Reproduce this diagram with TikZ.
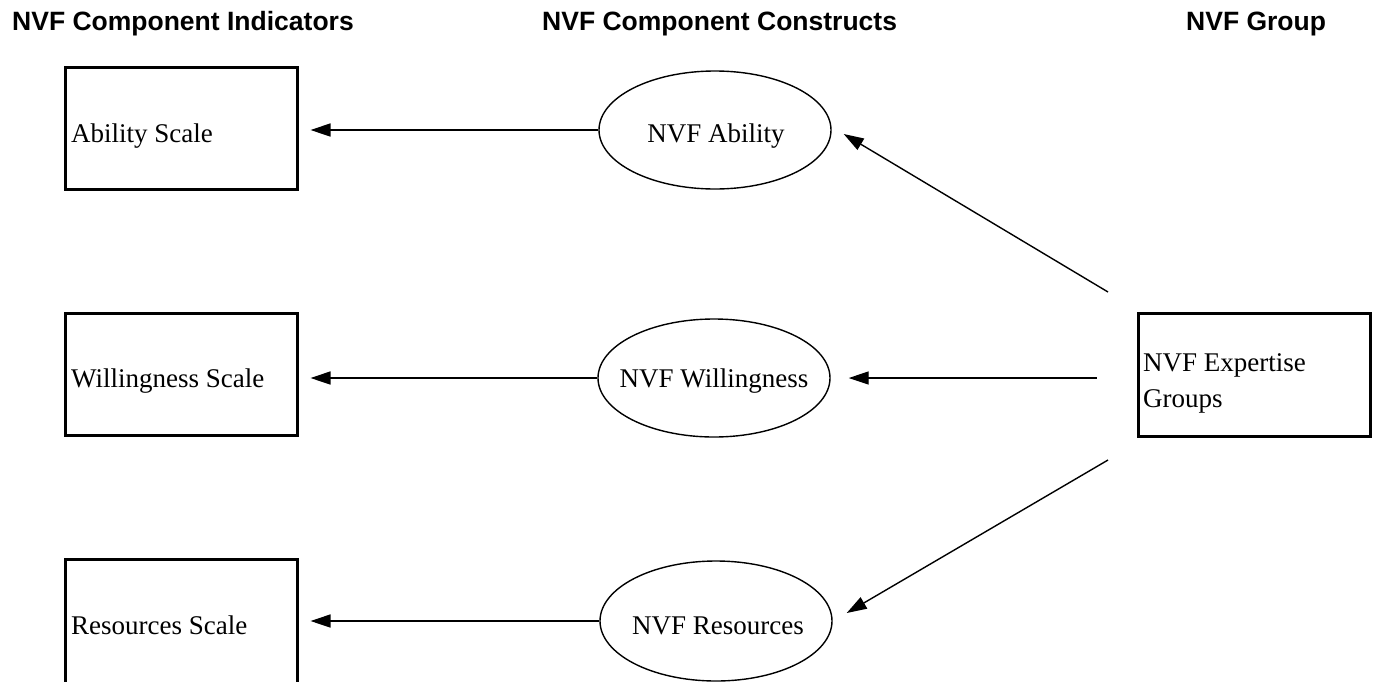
\documentclass[tikz,border=0pt]{standalone}
\usepackage{fontspec}
\setmainfont{Liberation Serif}
\newfontfamily\headfont{Liberation Sans}
\usetikzlibrary{arrows.meta,shapes.geometric}

\begin{document}
\begin{tikzpicture}[x=1pt,y=-1pt,
  scalebox/.style={draw,line width=3pt,minimum width=232pt,minimum height=122pt,inner sep=0pt},
  construct/.style={draw,ellipse,line width=1.4pt,minimum width=232pt,minimum height=118pt,inner sep=0pt},
  lbl/.style={anchor=base west,inner sep=0pt,align=left,font=\fontsize{27}{36}\selectfont},
  clbl/.style={anchor=base,inner sep=0pt,font=\fontsize{27}{32}\selectfont},
  head/.style={anchor=base west,inner sep=0pt,font=\headfont\bfseries\fontsize{26.5}{30}\selectfont},
  link/.style={line width=1.4pt,-{Triangle[length=20pt,width=13pt]}}]

\useasboundingbox (0,0) rectangle (1376,681);
\clip (0,0) rectangle (1376,681);

% column headings
\node[head] (h1) at (12,30) {NVF Component Indicators};
\node[head] (h2) at (542,30) {NVF Component Constructs};
\node[head] (h3) at (1186,30) {NVF Group};

% indicator boxes
\node[scalebox] (abilbox) at (181,128) {};
\node[scalebox] (willbox) at (181,374.5) {};
\node[scalebox,minimum height=124pt] (resbox) at (181,621) {};
\node[lbl] (abiltxt) at (71,142) {Ability Scale};
\node[lbl] (willtxt) at (71,387) {Willingness Scale};
\node[lbl] (restxt) at (71,634) {Resources Scale};

% constructs
\node[construct] (abil) at (715,130) {};
\node[construct] (will) at (714,378) {};
\node[construct,minimum height=120pt] (res) at (716,621) {};
\node[clbl] (abiltxt2) at (716,142) {NVF Ability};
\node[clbl] (willtxt2) at (714,387) {NVF Willingness};
\node[clbl] (restxt2) at (718,634) {NVF Resources};

% group box
\node[scalebox,minimum height=123pt] (grp) at (1254,374.5) {};
\node[lbl] (grptxt) at (1143,407) {NVF Expertise\\Groups};

% construct -> indicator
\draw[link,shorten >=12pt] (abil.west) -- (abilbox.east |- abil.west);
\draw[link,shorten >=12pt] (will.west) -- (willbox.east |- will.west);
\draw[link,shorten >=12pt] (res.west) -- (resbox.east |- res.west);

% group -> constructs
\draw[link] ([shift={(-28.5,-19.5)}]grp.north west) -- ([shift={(12,4)}]abil.east);
\draw[link] ([xshift=-40pt]grp.west |- will.east) -- ([xshift=18pt]will.east);
\draw[link] ([shift={(-28.5,22.5)}]grp.south west) -- ([shift={(14,-8)}]res.east);
\end{tikzpicture}
\end{document}
